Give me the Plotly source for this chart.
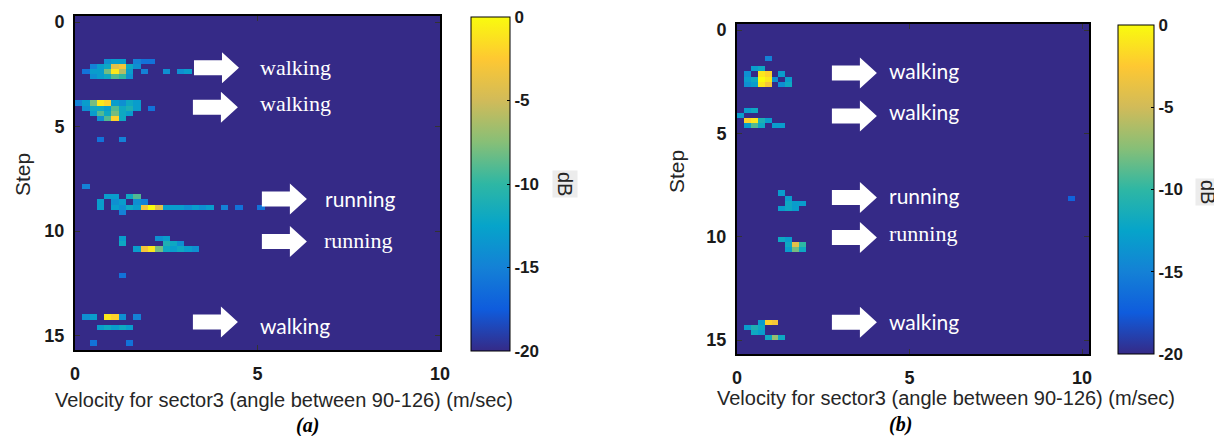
import numpy as np
import plotly.graph_objects as go

# ---------------- data ----------------
vel_centers = np.round(np.arange(0.1, 10.2, 0.2), 3)     # velocity bins (m/s)
step_centers = np.arange(0.125, 16.0, 0.25)              # step bins
background_db = -20

# panel (a): non-background cells (velocity, step, dB)
a_vel = [0.9, 1.1, 1.3, 1.7, 1.9, 2.1,
         0.5, 0.7, 0.9, 1.1, 1.3, 1.5, 1.7,
         0.3, 0.5, 0.7, 0.9, 1.1, 1.3, 1.5, 1.9, 2.5, 2.9, 3.1,
         0.5, 0.7, 0.9, 1.1, 1.3, 1.5,
         0.1, 0.3, 0.5, 0.7, 0.9, 1.1, 1.3, 1.5, 1.7,
         0.3, 0.5, 0.7, 0.9, 1.1, 1.3, 1.5, 1.7, 2.1,
         0.5, 0.7, 0.9, 1.1, 1.3, 1.5,
         0.7, 0.9, 1.1, 1.3,
         0.7, 1.3,
         0.3,
         0.9, 1.1, 1.5, 1.7,
         0.7, 1.1, 1.3, 1.7, 1.9,
         0.7, 1.1, 1.3, 1.5, 1.7, 1.9, 2.1, 2.3, 2.5, 2.7, 2.9, 3.1, 3.3, 3.5, 3.7, 4.1, 4.5, 5.1,
         1.3,
         1.3, 2.3, 2.5,
         1.3, 2.5, 2.7, 2.9,
         1.7, 1.9, 2.1, 2.3, 2.5, 2.7, 2.9, 3.1, 3.3,
         1.3,
         0.3, 0.5, 0.9, 1.1, 1.3, 1.7,
         0.7, 0.9, 1.1, 1.3, 1.5,
         0.5, 1.5]
a_step = [1.875] * 6 + [2.125] * 7 + [2.375] * 11 + [2.625] * 6 + \
         [3.875] * 9 + [4.125] * 9 + [4.375] * 6 + [4.625] * 4 + [5.625] * 2 + \
         [7.875] + [8.375] * 4 + [8.625] * 5 + [8.875] * 18 + [9.125] + \
         [10.375] * 3 + [10.625] * 4 + [10.875] * 9 + [12.125] + \
         [14.125] * 6 + [14.625] * 5 + [15.375] * 2
a_db = [-14, -13, -13, -15, -16, -16,
        -15, -13, -12, -4, -3, -12, -14,
        -16, -13, -13, -8, -1, -6, -13, -15, -14, -14, -13,
        -14, -13, -12, -9, -10, -14,
        -15, -13, -8, -1, -2, -13, -14, -12, -13,
        -14, -12, -12, -13, -9, -12, -11, -13, -16,
        -13, -9, -12, -8, -12, -13,
        -14, -9, -2, -12,
        -16, -15,
        -15,
        -13, -13, -12, -9,
        -13, -14, -13, -14, -15,
        -13, -13, -14, -12, -13, -3, 0, -4, -13, -13, -13, -14, -13, -14, -13, -15, -16, -16,
        -15,
        -13, -14, -13,
        -12, -11, -12, -14,
        -13, -3, -1, -8, -12, -13, -12, -13, -14,
        -16,
        -14, -13, -1, -2, -14, -15,
        -13, -12, -13, -12, -13,
        -16, -16]

# panel (b): non-background cells (velocity, step, dB)
b_vel = [0.9,
         0.5, 0.7,
         0.3, 0.7, 0.9, 1.3,
         0.3, 0.5, 0.7, 0.9, 1.1, 1.5,
         0.3, 0.5, 0.7, 0.9, 1.3, 1.5,
         0.3, 0.5,
         0.1,
         0.3, 0.5, 0.7, 0.9,
         0.3, 0.5, 0.7, 1.1, 1.3,
         1.3,
         1.5, 9.7,
         1.5, 1.7, 1.9,
         1.3, 1.5, 1.7,
         1.3, 1.5,
         1.5, 1.7, 1.9,
         1.5, 1.7, 1.9,
         0.7, 0.9, 1.1,
         0.3, 0.5, 0.7,
         0.5, 0.7,
         0.9, 1.1, 1.3]
b_step = [1.375] + [1.875] * 2 + [2.125] * 4 + [2.375] * 6 + [2.625] * 6 + \
         [3.875] * 2 + [4.125] + [4.375] * 4 + [4.625] * 5 + \
         [7.875] + [8.125] * 2 + [8.375] * 3 + [8.625] * 3 + \
         [10.125] * 2 + [10.375] * 3 + [10.625] * 3 + \
         [14.125] * 3 + [14.375] * 3 + [14.625] * 2 + [14.875] * 3
b_db = [-15,
        -13, -12,
        -14, -1, -2, -13,
        -13, -12, 0, -1, -14, -13,
        -14, -13, -1, -3, -14, -12,
        -13, -12,
        -13,
        -2, -1, -11, -13,
        -13, -9, -12, -13, -13,
        -13,
        -13, -17,
        -12, -13, -13,
        -13, -12, -13,
        -12, -13,
        -12, -4, -10,
        -13, -8, -12,
        -13, -2, -3,
        -13, -11, -12,
        -12, -13,
        -12, -7, -12]

# annotations (arrow tail velocity, arrow centre step, label, label font)
a_arrow_vel = [3.26, 3.23, 5.12, 5.12, 3.23]
a_arrow_step = [2.18, 4.07, 8.47, 10.50, 14.35]
a_label_vel = [5.01, 5.01, 6.79, 6.77, 5.01]
a_label_step = [2.15, 3.88, 8.42, 10.46, 14.50]
a_labels = ["walking", "walking", "running", "running", "walking"]
a_label_serif = [True, True, False, True, False]

b_arrow_vel = [2.75, 2.75, 2.75, 2.75, 2.75]
b_arrow_step = [2.08, 4.16, 8.10, 10.03, 14.14]
b_label_vel = [4.35, 4.35, 4.35, 4.35, 4.35]
b_label_step = [1.97, 3.92, 7.98, 9.82, 14.12]
b_labels = ["walking", "walking", "running", "running", "walking"]
b_label_serif = [False, False, False, True, False]

x_title = "Velocity for sector3 (angle between 90-126) (m/sec)"
y_title = "Step"
cbar_title = "dB"
cbar_ticks = [0, -5, -10, -15, -20]
x_ticks = [0, 5, 10]
y_ticks = [0, 5, 10, 15]
captions = ["(a)", "(b)"]

# ---------------- build ----------------
OFF = 8                      # page body margin
W, H = 1222 - OFF, 436 - OFF

parula = [[0.0, "#352a87"], [0.125, "#0f5cdd"], [0.25, "#1481d6"],
          [0.375, "#06a4ca"], [0.5, "#2eb7a4"], [0.625, "#87bf77"],
          [0.75, "#d1bb59"], [0.875, "#fec832"], [1.0, "#f9fb0e"]]


def grid(vels, steps, dbs):
    z = np.full((len(step_centers), len(vel_centers)), float(background_db))
    for v, s, d in zip(vels, steps, dbs):
        i = int(np.argmin(np.abs(step_centers - s)))
        j = int(np.argmin(np.abs(vel_centers - v)))
        z[i, j] = d
    return z


def px(x):
    return (x - OFF) / W


def py(y):
    return 1 - (y - OFF) / H


SANS = "Liberation Sans, Arial, sans-serif"
SERIF = "Liberation Serif, Times New Roman, serif"
LABEL_SANS = "Lato, Open Sans, sans-serif"
tickfont = dict(family=SANS, size=18, color="#1a1a1a", weight="bold")

# page-pixel geometry of the panels
panels = [
    dict(px=(75, 440), py=(16, 350), xr=[0, 10], yr=[15.69, -0.29],
         cb=(471, 17, 351, 39), db=(565, 184), title=(284, 400), step=(22, 175), cap=(307, 425)),
    dict(px=(737, 1089), py=(24, 354), xr=[0, 10.2], yr=[15.67, -0.29],
         cb=(1118, 25, 354, 36), db=(1208, 192), title=(946, 398), step=(677, 172), cap=(900, 424)),
]

fig = go.Figure()
zs = [grid(a_vel, a_step, a_db), grid(b_vel, b_step, b_db)]

for k, p in enumerate(panels):
    cbx, cbt, cbb, cbw = p["cb"]
    fig.add_trace(go.Heatmap(
        x=vel_centers, y=step_centers, z=zs[k], zmin=-20.0001, zmax=0.0001, zsmooth=False,
        colorscale=parula, xaxis="x" if k == 0 else "x2", yaxis="y" if k == 0 else "y2",
        hoverinfo="skip",
        colorbar=dict(x=px(cbx), xanchor="left", y=py((cbt + cbb) / 2), yanchor="middle",
                      len=(cbb - cbt) / H, lenmode="fraction", thickness=cbw, thicknessmode="pixels",
                      xpad=0, ypad=0, outlinecolor="black", outlinewidth=1,
                      tickmode="array", tickvals=cbar_ticks, ticktext=[str(t) for t in cbar_ticks],
                      ticks="inside", ticklen=3, tickcolor="black", ticklabeloverflow="allow",
                      tickfont=dict(family=SANS, size=17, color="#1a1a1a", weight="bold")),
    ))
    ax = dict(domain=[px(p["px"][0]), px(p["px"][1])], range=p["xr"], tickvals=x_ticks,
              ticks="inside", ticklen=5, tickcolor="#333", showline=True, linecolor="black",
              linewidth=2, mirror="ticks", showgrid=False, zeroline=False, tickfont=tickfont,
              ticklabelstandoff=6, automargin=False)
    ay = dict(domain=[py(p["py"][1]), py(p["py"][0])], range=p["yr"], tickvals=y_ticks,
              ticks="inside", ticklen=5, tickcolor="#333", showline=True, linecolor="black",
              linewidth=2, mirror="ticks", showgrid=False, zeroline=False, tickfont=tickfont,
              ticklabelstandoff=5, automargin=False)
    if k == 0:
        ax["anchor"] = "y"; ay["anchor"] = "x"
        fig.update_layout(xaxis=ax, yaxis=ay)
    else:
        ax["anchor"] = "y2"; ay["anchor"] = "x2"
        fig.update_layout(xaxis2=ax, yaxis2=ay)

    # titles and caption
    fig.add_annotation(text=x_title, x=px(p["title"][0]), y=py(p["title"][1]), xref="paper", yref="paper",
                       showarrow=False, font=dict(family=SANS, size=20, color="#262626"),
                       xanchor="center", yanchor="middle")
    fig.add_annotation(text=y_title, x=px(p["step"][0]), y=py(p["step"][1]), xref="paper", yref="paper",
                       showarrow=False, textangle=-90, font=dict(family=SANS, size=21, color="#262626"),
                       xanchor="center", yanchor="middle")
    fig.add_annotation(text=cbar_title, x=px(p["db"][0]), y=py(p["db"][1]), xref="paper", yref="paper",
                       showarrow=False, textangle=90, bgcolor="#ececec",
                       font=dict(family=SANS, size=20, color="#262626"),
                       xanchor="center", yanchor="middle")
    fig.add_annotation(text="<b><i>%s</i></b>" % captions[k], x=px(p["cap"][0]), y=py(p["cap"][1]),
                       xref="paper", yref="paper", showarrow=False,
                       font=dict(family=SERIF, size=20, color="black"), xanchor="center", yanchor="middle")

    # block arrows + labels
    sx = (p["px"][1] - p["px"][0]) / (p["xr"][1] - p["xr"][0])
    sy = (p["py"][1] - p["py"][0]) / (p["yr"][0] - p["yr"][1])
    xref = "x" if k == 0 else "x2"
    yref = "y" if k == 0 else "y2"
    arr_v = a_arrow_vel if k == 0 else b_arrow_vel
    arr_s = a_arrow_step if k == 0 else b_arrow_step
    lab_v = a_label_vel if k == 0 else b_label_vel
    lab_s = a_label_step if k == 0 else b_label_step
    labs = a_labels if k == 0 else b_labels
    serif = a_label_serif if k == 0 else b_label_serif
    L, HL, hs, hh = 45 / sx, 17 / sx, 7.5 / sy, 15.5 / sy
    for x0, yc in zip(arr_v, arr_s):
        xs = x0 + L - HL
        path = (f"M {x0},{yc - hs} L {xs},{yc - hs} L {xs},{yc - hh} L {x0 + L},{yc} "
                f"L {xs},{yc + hh} L {xs},{yc + hs} L {x0},{yc + hs} Z")
        fig.add_shape(type="path", path=path, xref=xref, yref=yref,
                      fillcolor="white", line=dict(width=0))
    for xv, yv, t, sf in zip(lab_v, lab_s, labs, serif):
        fig.add_annotation(text=t, x=xv, y=yv, xref=xref, yref=yref, showarrow=False,
                           xanchor="left", yanchor="middle",
                           font=dict(family=SERIF if sf else LABEL_SANS, size=22 if sf else 21, color="white"))

fig.update_layout(width=W, height=H, margin=dict(l=0, r=0, t=0, b=0, autoexpand=False),
                  paper_bgcolor="white", plot_bgcolor="#352a87", showlegend=False)

fig.write_html("out.html")
